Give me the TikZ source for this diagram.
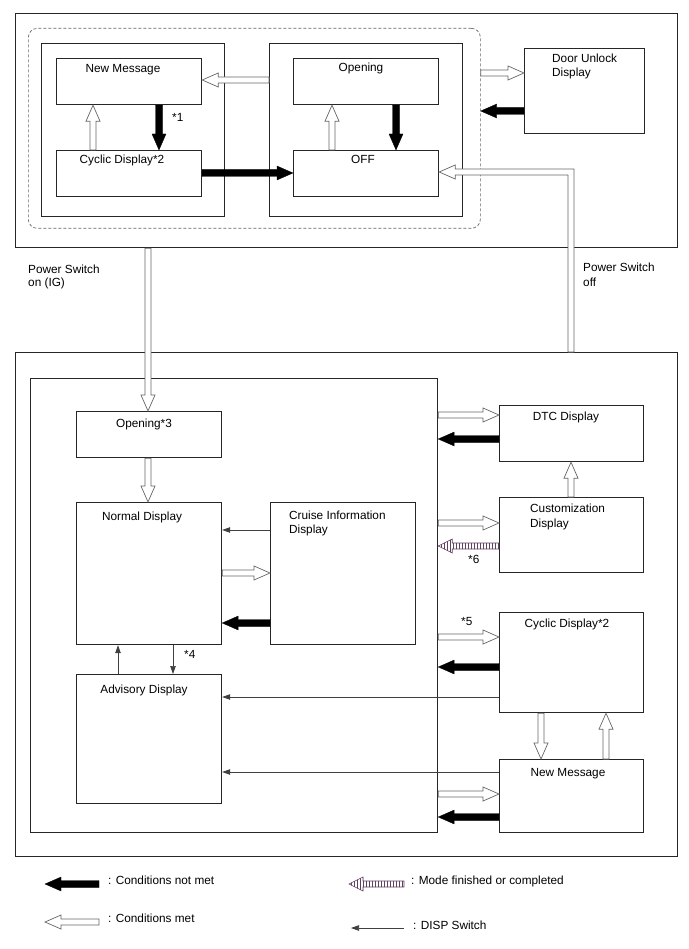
\documentclass[tikz,border=0pt]{standalone}
\usepackage{fontspec}
\setmainfont{Liberation Sans}
\usetikzlibrary{calc,arrows.meta,patterns}
% generic block arrow: #1 style, #2 shaft half width, #3 head half width, #4 head length, #5 start, #6 tip
\newcommand\fatarrow[6]{%
  \coordinate (fas) at #5; \coordinate (fae) at #6;
  \coordinate (fab) at ($(fae)!#4!(fas)$);
  \draw[#1] ($(fas)!#2!90:(fae)$) -- ($(fab)!#2!90:(fae)$) -- ($(fab)!#3!90:(fae)$) -- (fae)
    -- ($(fab)!#3!-90:(fae)$) -- ($(fab)!#2!-90:(fae)$) -- ($(fas)!#2!-90:(fae)$) -- cycle;}
\newcommand\blk[2]{\fatarrow{blackarrow}{3.5pt}{7pt}{16pt}{#1}{#2}}
\newcommand\hol[2]{\fatarrow{hollowarrow}{3pt}{7pt}{16pt}{#1}{#2}}
\newcommand\strp[2]{\fatarrow{stripearrow}{3pt}{7pt}{14pt}{#1}{#2}}
\tikzset{
  box/.style={draw=black!85, line width=1.2pt, inner sep=0pt, anchor=north west},
  hollowarrow/.style={draw=black!60, fill=white, line width=0.7pt, line join=miter},
  blackarrow/.style={fill=black, draw=black, line width=0.3pt},
  stripearrow/.style={draw=violet!35!black!75, line width=0.6pt, pattern=vertical lines, pattern color=violet!35!black!75},
  thinarrow/.style={draw=black!75, line width=0.7pt, -{Triangle[length=8pt 0, width=5.5pt 0]}},
  txt/.style={font=\fontsize{11.8}{14}\selectfont, inner sep=0pt},
}
\begin{document}
\begin{tikzpicture}[x=1pt,y=-1pt]
\fill[white] (0,0) rectangle (688,949);
\useasboundingbox (0,0) rectangle (688,949);

% ---------- top block ----------
\node[box, minimum width=662pt, minimum height=234pt] (outerT) at (15,13) {};
\node[box, draw=black!60, line width=0.7pt, dash pattern=on 3pt off 2pt, rounded corners=9pt, minimum width=452pt, minimum height=200pt] (dashbox) at (28,28) {};
\node[box, minimum width=183pt, minimum height=173pt] (leftIn) at (41,43) {};
\node[box, minimum width=145pt, minimum height=46pt] (nmT) at (56,58) {};
\node[box, minimum width=145pt, minimum height=46pt] (cycT) at (56,150) {};
\node[box, minimum width=193pt, minimum height=173pt] (rightIn) at (269,43) {};
\node[box, minimum width=145pt, minimum height=46pt] (opT) at (293,58) {};
\node[box, minimum width=145pt, minimum height=46pt] (offT) at (293,150) {};
\node[box, minimum width=120pt, minimum height=85pt] (door) at (524,48) {};

\node[txt, anchor=base] (nmTt) at (123,73) {New Message};
\node[txt, anchor=base] (cycTt) at (122,164) {Cyclic Display*2};
\node[txt, anchor=base] (opTt) at (361,72) {Opening};
\node[txt, anchor=base] (offTt) at (363,164) {OFF};
\node[txt, anchor=base west] (doort1) at (552,63) {Door Unlock};
\node[txt, anchor=base west] (doort2) at (552,77) {Display};
\node[txt, anchor=base west] (star1) at (172,122) {*1};

\node[txt, anchor=base west] (pon1) at (28,273) {Power Switch};
\node[txt, anchor=base west] (pon2) at (28,287) {on (IG)};
\node[txt, anchor=base west] (poff1) at (583,272) {Power Switch};
\node[txt, anchor=base west] (poff2) at (583,287) {off};

% ---------- bottom block ----------
\node[box, minimum width=662pt, minimum height=504pt] (outerB) at (15,352) {};
\node[box, minimum width=407pt, minimum height=454pt] (inB) at (30,378) {};
\node[box, minimum width=145pt, minimum height=46pt] (op3) at (76,411) {};
\node[box, minimum width=145pt, minimum height=142pt] (normal) at (76,502) {};
\node[box, minimum width=145pt, minimum height=142pt] (cruise) at (270,502) {};
\node[box, minimum width=145pt, minimum height=129pt] (adv) at (76,674) {};
\node[box, minimum width=144pt, minimum height=56pt] (dtc) at (499,405) {};
\node[box, minimum width=144pt, minimum height=75pt] (cust) at (499,497) {};
\node[box, minimum width=144pt, minimum height=100pt] (cycB) at (499,612) {};
\node[box, minimum width=144pt, minimum height=73pt] (nmB) at (499,759) {};

\node[txt, anchor=base] (op3t) at (144,427) {Opening*3};
\node[txt, anchor=base] (normalt) at (142,520) {Normal Display};
\node[txt, anchor=base west] (cruiset1) at (289,519) {Cruise Information};
\node[txt, anchor=base west] (cruiset2) at (289,533) {Display};
\node[txt, anchor=base] (advt) at (144,693) {Advisory Display};
\node[txt, anchor=base] (dtct) at (566,420) {DTC Display};
\node[txt, anchor=base west] (custt1) at (530,512) {Customization};
\node[txt, anchor=base west] (custt2) at (530,527) {Display};
\node[txt, anchor=base] (cycBt) at (567,627) {Cyclic Display*2};
\node[txt, anchor=base] (nmBt) at (568,776) {New Message};
\node[txt, anchor=base west] (star4) at (184,658) {*4};
\node[txt, anchor=base west] (star5) at (461,625) {*5};
\node[txt, anchor=base west] (star6) at (468,563) {*6};

% ---------- connectors top ----------
\hol{(rightIn.west |- 0,80)}{(nmT.east |- 0,80)}
\blk{(nmT.south -| 159,0)}{(cycT.north -| 159,0)}
\hol{(cycT.north -| 93,0)}{(nmT.south -| 93,0)}
\blk{(cycT.east |- 0,173)}{(offT.west |- 0,173)}
\hol{(offT.north -| 332,0)}{(opT.south -| 332,0)}
\blk{(opT.south -| 396,0)}{(offT.north -| 396,0)}
\hol{(dashbox.east |- 0,73)}{(door.west |- 0,73)}
\blk{(door.west |- 0,111)}{(dashbox.east |- 0,111)}

% power switch on
\hol{(outerT.south -| 148,0)}{(op3.north -| 148,0)}
% power switch off (L-shaped hollow arrow)
\coordinate (poff) at (outerB.north -| 571,0);
\coordinate (tipoff) at (offT.east |- 0,172);
\draw[hollowarrow] ($(poff)+(-3,0)$) -- ($(poff |- tipoff)+(-3,3)$) -- ($(tipoff)+(16,3)$)
  -- ($(tipoff)+(16,7)$) -- (tipoff) -- ($(tipoff)+(16,-7)$) -- ($(tipoff)+(16,-3)$)
  -- ($(poff |- tipoff)+(3,-3)$) -- ($(poff)+(3,0)$) -- cycle;

% ---------- connectors bottom ----------
\hol{(op3.south -| 148,0)}{(normal.north -| 148,0)}
\draw[thinarrow] (cruise.west |- 0,530) -- (normal.east |- 0,530);
\hol{(normal.east |- 0,573)}{(cruise.west |- 0,573)}
\blk{(cruise.west |- 0,623)}{(normal.east |- 0,623)}
\draw[thinarrow] (normal.south -| 173,0) -- (adv.north -| 173,0);
\draw[thinarrow] (adv.north -| 118,0) -- (normal.south -| 118,0);

\hol{(inB.east |- 0,415)}{(dtc.west |- 0,415)}
\blk{(dtc.west |- 0,439)}{(inB.east |- 0,439)}
\hol{(cust.north -| 571,0)}{(dtc.south -| 571,0)}
\hol{(inB.east |- 0,523)}{(cust.west |- 0,523)}
\strp{(cust.west |- 0,546)}{(inB.east |- 0,546)}
\hol{(inB.east |- 0,637)}{(cycB.west |- 0,637)}
\blk{(cycB.west |- 0,667)}{(inB.east |- 0,667)}
\draw[thinarrow] (cycB.west |- 0,697) -- (adv.east |- 0,697);
\hol{(cycB.south -| 541,0)}{(nmB.north -| 541,0)}
\hol{(nmB.north -| 606,0)}{(cycB.south -| 606,0)}
\draw[thinarrow] (nmB.west |- 0,772) -- (adv.east |- 0,772);
\hol{(inB.east |- 0,794)}{(nmB.west |- 0,794)}
\blk{(nmB.west |- 0,817)}{(inB.east |- 0,817)}

% ---------- legend ----------
\coordinate (l1s) at (99,884); \coordinate (l1e) at (45,884);
\coordinate (l2s) at (99,922); \coordinate (l2e) at (45,922);
\coordinate (l3s) at (404,884); \coordinate (l3e) at (349,884);
\coordinate (l4s) at (404,928); \coordinate (l4e) at (351,928);
\blk{(l1s)}{(l1e)}
\hol{(l2s)}{(l2e)}
\strp{(l3s)}{(l3e)}
\draw[thinarrow] (l4s) -- (l4e);
\node[txt, anchor=base west] (lt1) at (108,884) {: Conditions not met};
\node[txt, anchor=base west] (lt2) at (108,922) {: Conditions met};
\node[txt, anchor=base west] (lt3) at (411,884) {: Mode finished or completed};
\node[txt, anchor=base west] (lt4) at (413,929) {: DISP Switch};
\end{tikzpicture}
\end{document}
